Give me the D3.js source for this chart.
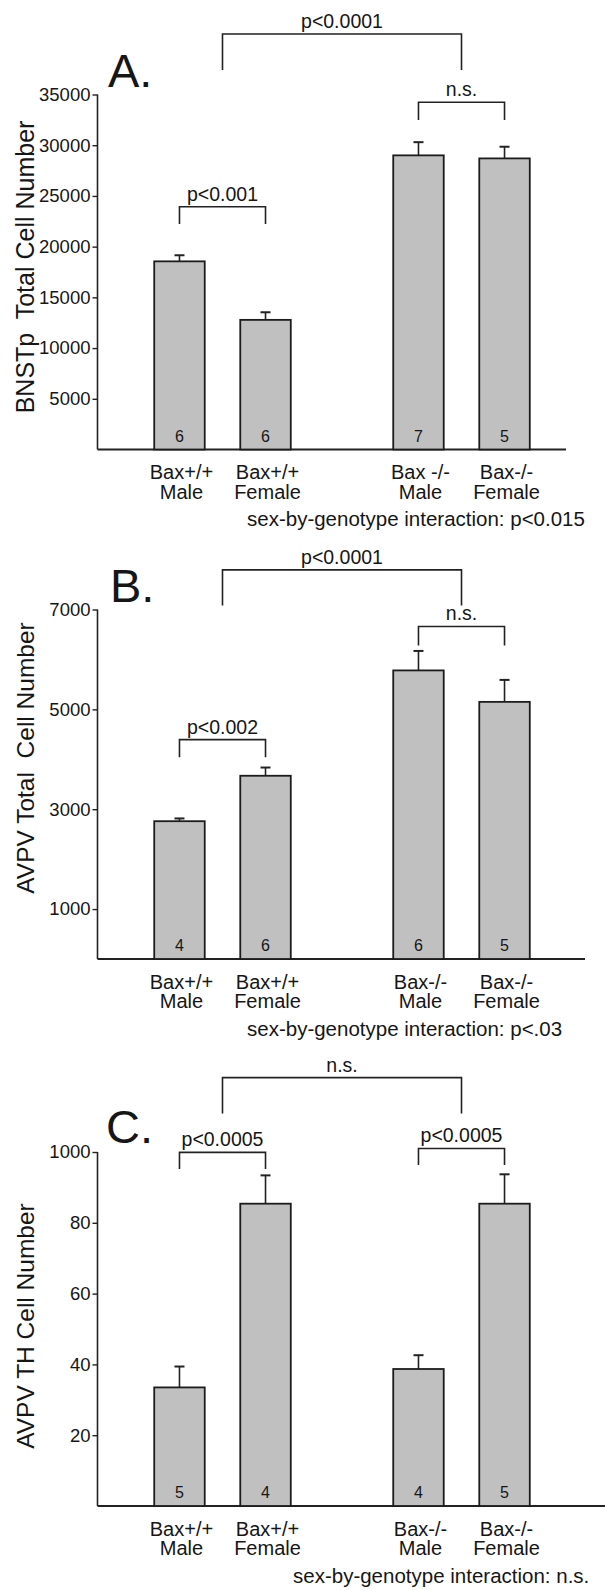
<!DOCTYPE html>
<html>
<head>
<meta charset="utf-8">
<script src="https://cdn.jsdelivr.net/npm/d3@7"></script>
<style>
  html, body { margin: 0; padding: 0; background: #fff; }
  svg { display: block; }
  text { font-family: "Liberation Sans", Arial, sans-serif; fill: #161616; }
</style>
</head>
<body>
<svg id="chart" width="605" height="1590"></svg>
<script>
// ---------- data ----------
const genotypes = ["Bax+/+", "Bax-/-"];
const sexes = ["Male", "Female"];

// Panel A: BNSTp total cell number
const bnstLine1 = ["Bax+/+", "Bax+/+", "Bax -/-", "Bax-/-"];
const bnstMeans = [18550, 12780, 29000, 28700];
const bnstSEM = [600, 750, 1300, 1150];
const bnstN = [6, 6, 7, 5];
const bnstTicks = [5000, 10000, 15000, 20000, 25000, 30000, 35000];
const bnstTickLabels = ["5000", "10000", "15000", "20000", "25000", "30000", "35000"];
const bnstBrackets = [
  { from: "g0", to: "g1", level: 40970, leg: 37420, label: "p<0.0001" },
  { from: 0, to: 1, level: 23940, leg: 22230, label: "p<0.001" },
  { from: 2, to: 3, level: 34235, leg: 32490, label: "n.s." }
];

// Panel B: AVPV total cell number
const avpvLine1 = ["Bax+/+", "Bax+/+", "Bax-/-", "Bax-/-"];
const avpvMeans = [2760, 3670, 5780, 5150];
const avpvSEM = [55, 165, 390, 440];
const avpvN = [4, 6, 6, 5];
const avpvTicks = [1000, 3000, 5000, 7000];
const avpvTickLabels = ["1000", "3000", "5000", "7000"];
const avpvBrackets = [
  { from: "g0", to: "g1", level: 7794, leg: 7080, label: "p<0.0001" },
  { from: 0, to: 1, level: 4394, leg: 4040, label: "p<0.002" },
  { from: 2, to: 3, level: 6660, leg: 6280, label: "n.s." }
];

// Panel C: AVPV TH cell number
const thLine1 = ["Bax+/+", "Bax+/+", "Bax-/-", "Bax-/-"];
const thMeans = [33.5, 85.4, 38.7, 85.4];
const thSEM = [5.9, 8.0, 3.9, 8.3];
const thN = [5, 4, 4, 5];
const thTicks = [20, 40, 60, 80, 100];
const thTickLabels = ["20", "40", "60", "80", "1000"];
const thBrackets = [
  { from: "g0", to: "g1", level: 121, leg: 110.9, label: "n.s." },
  { from: 0, to: 1, level: 99.9, leg: 95.2, label: "p<0.0005" },
  { from: 2, to: 3, level: 101, leg: 96.3, label: "p<0.0005" }
];

// ---------- layout ----------
const svg = d3.select("#chart");
const axisX = 97.5;
const barW = 50.5;

const panels = [
  { letter: "A.", letterX: 108, letterY: 87, title: "BNSTp  Total Cell Number", titleY: 267, titleSize: 25,
    max: 35000, top: 94.5, bottom: 449.5, xEnd: 566,
    line1: bnstLine1, means: bnstMeans, sem: bnstSEM, n: bnstN,
    ticks: bnstTicks, tickLabels: bnstTickLabels, brackets: bnstBrackets,
    note: "sex-by-genotype interaction: p<0.015", noteX: 247 },
  { letter: "B.", letterX: 110, letterY: 602, title: "AVPV Total  Cell Number", titleY: 758, titleSize: 24.5,
    max: 7000, top: 609.5, bottom: 959, xEnd: 585,
    line1: avpvLine1, means: avpvMeans, sem: avpvSEM, n: avpvN,
    ticks: avpvTicks, tickLabels: avpvTickLabels, brackets: avpvBrackets,
    note: "sex-by-genotype interaction: p<.03", noteX: 247 },
  { letter: "C.", letterX: 106, letterY: 1143, title: "AVPV TH Cell Number", titleY: 1326, titleSize: 24.5,
    max: 100, top: 1152, bottom: 1506, xEnd: 605,
    line1: thLine1, means: thMeans, sem: thSEM, n: thN,
    ticks: thTicks, tickLabels: thTickLabels, brackets: thBrackets,
    note: "sex-by-genotype interaction: n.s.", noteX: 293 }
];

const outer = d3.scaleBand().domain(genotypes).range([axisX, 586.5])
  .paddingInner(0.28).paddingOuter(0.163);
const inner = d3.scalePoint().domain(sexes).range([0, outer.bandwidth()]).padding(0.5);
const xCat = i => outer(genotypes[Math.floor(i / 2)]) + inner(sexes[i % 2]);
const xGroup = g => outer(genotypes[g]) + outer.bandwidth() / 2;
const xRef = r => (typeof r === "string") ? xGroup(+r.slice(1)) : xCat(r);

panels.forEach(p => {
  const g = svg.append("g");
  const y = d3.scaleLinear().domain([0, p.max]).range([p.bottom, p.top]);
  const idx = d3.range(p.means.length);

  // y axis ticks
  const ax = g.append("g")
    .attr("transform", `translate(${axisX},0)`)
    .call(d3.axisLeft(y).tickValues(p.ticks).tickSize(5).tickPadding(2)
      .tickFormat((d, i) => p.tickLabels[i]));
  ax.select(".domain").remove();
  ax.selectAll(".tick line").attr("stroke", "#222").attr("stroke-width", 1.4);
  ax.selectAll(".tick text")
    .style("font-family", '"Liberation Sans", Arial, sans-serif')
    .style("font-size", "18.5px").attr("fill", "#161616");

  // axis lines
  g.append("line").attr("x1", axisX).attr("x2", axisX)
    .attr("y1", y(p.max)).attr("y2", y(0))
    .attr("stroke", "#222").attr("stroke-width", 1.6);
  g.append("line").attr("x1", axisX).attr("x2", p.xEnd)
    .attr("y1", y(0)).attr("y2", y(0))
    .attr("stroke", "#222").attr("stroke-width", 1.8);

  // error bars
  idx.forEach(i => {
    const xc = xCat(i);
    g.append("line").attr("x1", xc).attr("x2", xc)
      .attr("y1", y(p.means[i])).attr("y2", y(p.means[i] + p.sem[i]))
      .attr("stroke", "#222").attr("stroke-width", 1.6);
    g.append("line").attr("x1", xc - 5).attr("x2", xc + 5)
      .attr("y1", y(p.means[i] + p.sem[i])).attr("y2", y(p.means[i] + p.sem[i]))
      .attr("stroke", "#222").attr("stroke-width", 2);
  });

  // bars
  g.selectAll("rect.bar").data(idx).join("rect")
    .attr("class", "bar")
    .attr("x", i => xCat(i) - barW / 2)
    .attr("width", barW)
    .attr("y", i => y(p.means[i]))
    .attr("height", i => y(0) - y(p.means[i]))
    .attr("fill", "#c0c0c0")
    .attr("stroke", "#1c1c1c")
    .attr("stroke-width", 1.8);

  // n labels
  g.selectAll("text.n").data(idx).join("text")
    .attr("class", "n")
    .attr("x", i => xCat(i))
    .attr("y", y(0) - 8)
    .attr("text-anchor", "middle")
    .style("font-size", "16px")
    .attr("fill", "#222")
    .text(i => p.n[i]);

  // category labels
  idx.forEach(i => {
    g.append("text").attr("x", xCat(i) + 2).attr("y", y(0) + 29.5)
      .attr("text-anchor", "middle").style("font-size", "20px").text(p.line1[i]);
    g.append("text").attr("x", xCat(i) + 2).attr("y", y(0) + 49)
      .attr("text-anchor", "middle").style("font-size", "20px").text(sexes[i % 2]);
  });

  // interaction note
  g.append("text").attr("x", p.noteX).attr("y", y(0) + 76.5)
    .style("font-size", "20.5px").text(p.note);

  // brackets
  p.brackets.forEach(b => {
    const x1 = xRef(b.from), x2 = xRef(b.to);
    g.append("path")
      .attr("d", `M${x1},${y(b.leg)}V${y(b.level)}H${x2}V${y(b.leg)}`)
      .attr("fill", "none").attr("stroke", "#222").attr("stroke-width", 1.6);
    g.append("text").attr("x", (x1 + x2) / 2).attr("y", y(b.level) - 6)
      .attr("text-anchor", "middle").style("font-size", "19.5px").text(b.label);
  });

  // panel letter
  g.append("text").attr("x", p.letterX).attr("y", p.letterY)
    .style("font-size", "47px").text(p.letter);

  // y title
  g.append("text")
    .attr("transform", `translate(33.5,${p.titleY}) rotate(-90)`)
    .attr("text-anchor", "middle")
    .style("font-size", p.titleSize + "px")
    .style("white-space", "pre")
    .attr("xml:space", "preserve")
    .text(p.title);
});
</script>
</body>
</html>
